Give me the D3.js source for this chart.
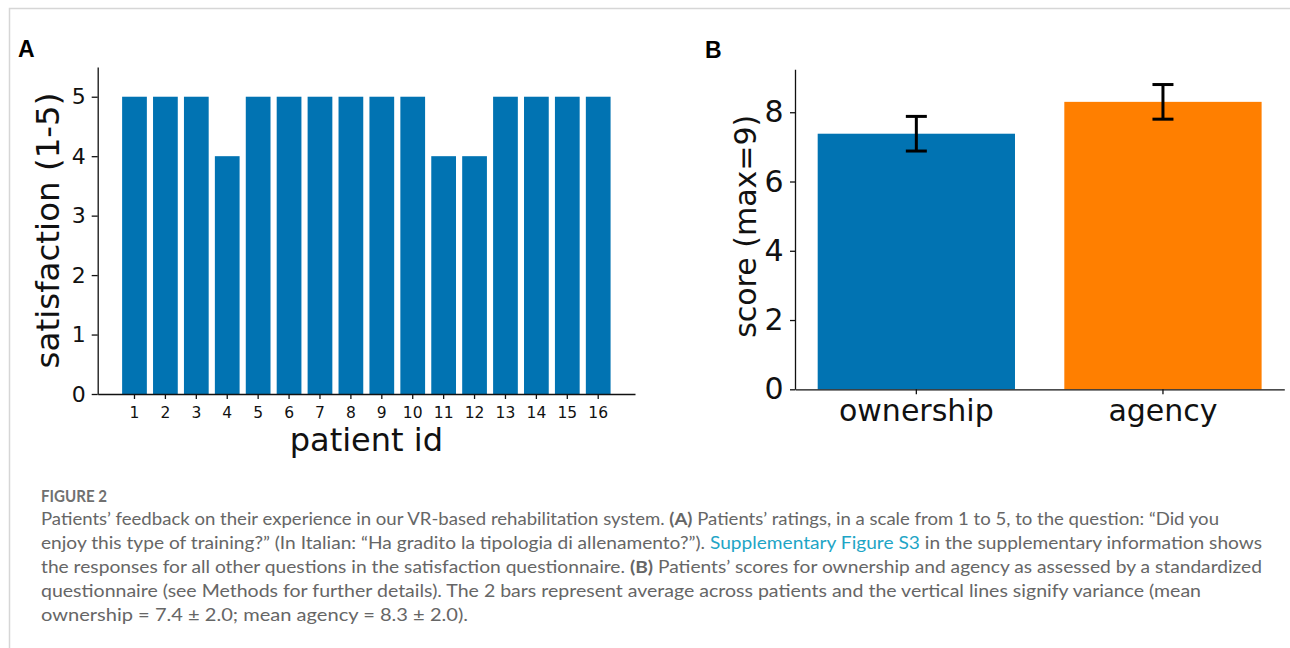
<!DOCTYPE html>
<html>
<head>
<meta charset="utf-8">
<script src="https://cdn.jsdelivr.net/npm/d3@7"></script>
<style>
  body { margin: 0; background: #fff; }
  svg { display: block; }
</style>
</head>
<body>
<div id="root"><svg id="figure" width="1290" height="648"></svg></div>
<script>
const patientIds = ['1', '2', '3', '4', '5', '6', '7', '8', '9', '10', '11', '12', '13', '14', '15', '16'];
const satisfaction = [5, 5, 5, 4, 5, 5, 5, 5, 5, 5, 4, 4, 5, 5, 5, 5];
const satisfactionTicks = [0, 1, 2, 3, 4, 5];

const scoreCategories = ['ownership', 'agency'];
const scoreMeans = [7.38, 8.3];
const scoreErrors = [0.5, 0.5];
const scoreTicks = [0, 2, 4, 6, 8];

const captionTitle = 'FIGURE 2';
const captionLines = [
  [['Patients’ feedback on their experience in our VR-based rehabilitation system. ', ''], ['(A)', 'b'], [' Patients’ ratings, in a scale from 1 to 5, to the question: “Did you', '']],
  [['enjoy this type of training?” (In Italian: “Ha gradito la tipologia di allenamento?”). ', ''], ['Supplementary Figure S3', 'link'], [' in the supplementary information shows', '']],
  [['the responses for all other questions in the satisfaction questionnaire. ', ''], ['(B)', 'b'], [' Patients’ scores for ownership and agency as assessed by a standardized', '']],
  [['questionnaire (see Methods for further details). The 2 bars represent average across patients and the vertical lines signify variance (mean', '']],
  [['ownership = 7.4 ± 2.0; mean agency = 8.3 ± 2.0).', '']],
];
const captionLineEnds = [1219, 1262, 1262, 1201, 468];

const mplFont = '"DejaVu Sans", sans-serif';
const blue = '#0173b2';
const orange = '#ff7f00';

const svg = d3.select('#figure');

function styleAxis(g, fontSize) {
  g.select('.domain').attr('stroke', '#111').attr('stroke-width', 1.3);
  g.selectAll('.tick line').attr('stroke', '#111').attr('stroke-width', 1.3);
  g.selectAll('.tick text')
    .attr('fill', '#111')
    .style('font-family', mplFont)
    .style('font-size', fontSize + 'px');
}

function drawFrame() {
  svg.append('rect').attr('width', 1290).attr('height', 648).attr('fill', '#fff');
  svg.append('path')
    .attr('d', 'M9.5,648V8.5H1290')
    .attr('fill', 'none')
    .attr('stroke', '#d6d6d6')
    .attr('stroke-width', 1.5);
}

function drawSatisfaction() {
  const left = 97.7;
  const right = 635;
  const bottom = 394;
  const top = 67;

  const x = d3.scaleBand()
    .domain(patientIds)
    .range([left, right])
    .paddingInner(0.2)
    .paddingOuter(0.79);

  const y = d3.scaleLinear()
    .domain([0, 5.5])
    .range([bottom, top]);

  const panel = svg.append('g');

  panel.selectAll('rect.bar')
    .data(satisfaction)
    .join('rect')
    .attr('class', 'bar')
    .attr('x', (d, i) => x(patientIds[i]))
    .attr('y', d => y(d))
    .attr('width', x.bandwidth())
    .attr('height', d => y(0) - y(d))
    .attr('fill', blue);

  panel.append('g')
    .attr('transform', `translate(0,${bottom})`)
    .call(d3.axisBottom(x).tickSize(5).tickPadding(8).tickSizeOuter(0))
    .call(g => styleAxis(g, 15.5));

  panel.append('g')
    .attr('transform', `translate(${left},0)`)
    .call(d3.axisLeft(y).tickValues(satisfactionTicks).tickFormat(d3.format('d'))
      .tickSize(6).tickPadding(6).tickSizeOuter(0))
    .call(g => styleAxis(g, 22));

  panel.append('text')
    .attr('transform', `translate(59,${(top + bottom) / 2}) rotate(-90)`)
    .attr('text-anchor', 'middle')
    .style('font-family', mplFont)
    .style('font-size', '32.5px')
    .attr('fill', '#111')
    .text('satisfaction (1-5)');

  panel.append('text')
    .attr('x', (left + right) / 2)
    .attr('y', 451)
    .attr('text-anchor', 'middle')
    .style('font-family', mplFont)
    .style('font-size', '32px')
    .attr('fill', '#111')
    .text('patient id');

  panel.append('text')
    .attr('x', 18)
    .attr('y', 57)
    .style('font-family', '"Liberation Sans", Arial, sans-serif')
    .style('font-weight', 'bold')
    .style('font-size', '23px')
    .text('A');
}

function drawScores() {
  const left = 795;
  const right = 1284.3;
  const bottom = 389.3;
  const top = 69.3;

  const x = d3.scaleBand()
    .domain(scoreCategories)
    .range([left, right])
    .paddingInner(0.2)
    .paddingOuter(0.092);

  const y = d3.scaleLinear()
    .domain([0, 9.24])
    .range([bottom, top]);

  const colors = d3.scaleOrdinal().domain(scoreCategories).range([blue, orange]);

  const panel = svg.append('g');

  panel.selectAll('rect.bar')
    .data(scoreMeans)
    .join('rect')
    .attr('class', 'bar')
    .attr('x', (d, i) => x(scoreCategories[i]))
    .attr('y', d => y(d))
    .attr('width', x.bandwidth())
    .attr('height', d => y(0) - y(d))
    .attr('fill', (d, i) => colors(scoreCategories[i]));

  // error bars
  const capHalf = 10.5;
  const errs = panel.selectAll('g.err')
    .data(scoreMeans)
    .join('g')
    .attr('class', 'err')
    .attr('stroke', '#000')
    .attr('stroke-width', 3);
  errs.append('line')
    .attr('x1', (d, i) => x(scoreCategories[i]) + x.bandwidth() / 2)
    .attr('x2', (d, i) => x(scoreCategories[i]) + x.bandwidth() / 2)
    .attr('y1', (d, i) => y(d - scoreErrors[i]))
    .attr('y2', (d, i) => y(d + scoreErrors[i]));
  [-1, 1].forEach(sign => {
    errs.append('line')
      .attr('x1', (d, i) => x(scoreCategories[i]) + x.bandwidth() / 2 - capHalf)
      .attr('x2', (d, i) => x(scoreCategories[i]) + x.bandwidth() / 2 + capHalf)
      .attr('y1', (d, i) => y(d + sign * scoreErrors[i]))
      .attr('y2', (d, i) => y(d + sign * scoreErrors[i]));
  });

  panel.append('g')
    .attr('transform', `translate(0,${bottom})`)
    .call(d3.axisBottom(x).tickSize(5).tickPadding(5.5).tickSizeOuter(0))
    .call(g => styleAxis(g, 30));

  panel.append('g')
    .attr('transform', `translate(${left},0)`)
    .call(d3.axisLeft(y).tickValues(scoreTicks).tickFormat(d3.format('d'))
      .tickSize(5).tickPadding(6.5).tickSizeOuter(0))
    .call(g => styleAxis(g, 30));

  panel.append('text')
    .attr('transform', `translate(756,${(top + bottom) / 2 - 3}) rotate(-90)`)
    .attr('text-anchor', 'middle')
    .style('font-family', mplFont)
    .style('font-size', '30px')
    .attr('fill', '#111')
    .text('score (max=9)');

  panel.append('text')
    .attr('x', 705)
    .attr('y', 58)
    .style('font-family', '"Liberation Sans", Arial, sans-serif')
    .style('font-weight', 'bold')
    .style('font-size', '23px')
    .text('B');
}

function drawCaption() {
  const captionX = 41;
  const captionFont = 'Lato, "Open Sans", sans-serif';

  svg.append('text')
    .attr('x', captionX)
    .attr('y', 502)
    .attr('textLength', 66)
    .attr('lengthAdjust', 'spacingAndGlyphs')
    .style('font-family', captionFont)
    .style('font-size', '17px')
    .style('font-weight', 'bold')
    .attr('fill', '#707070')
    .text(captionTitle);

  captionLines.forEach((segments, i) => {
    const line = svg.append('text')
      .attr('x', captionX)
      .attr('y', 525 + i * 24)
      .attr('textLength', captionLineEnds[i] - captionX)
      .attr('lengthAdjust', 'spacingAndGlyphs')
      .style('font-family', captionFont)
      .style('font-size', '17.5px')
      .attr('fill', '#666');
    segments.forEach(([text, kind]) => {
      line.append('tspan')
        .attr('fill', kind === 'link' ? '#1ea5c6' : '#666')
        .style('font-weight', kind === 'b' ? 'bold' : 'normal')
        .text(text);
    });
  });
}

window.addEventListener('load', function() {
  drawFrame();
  drawSatisfaction();
  drawScores();
  drawCaption();
});
</script>
</body>
</html>
